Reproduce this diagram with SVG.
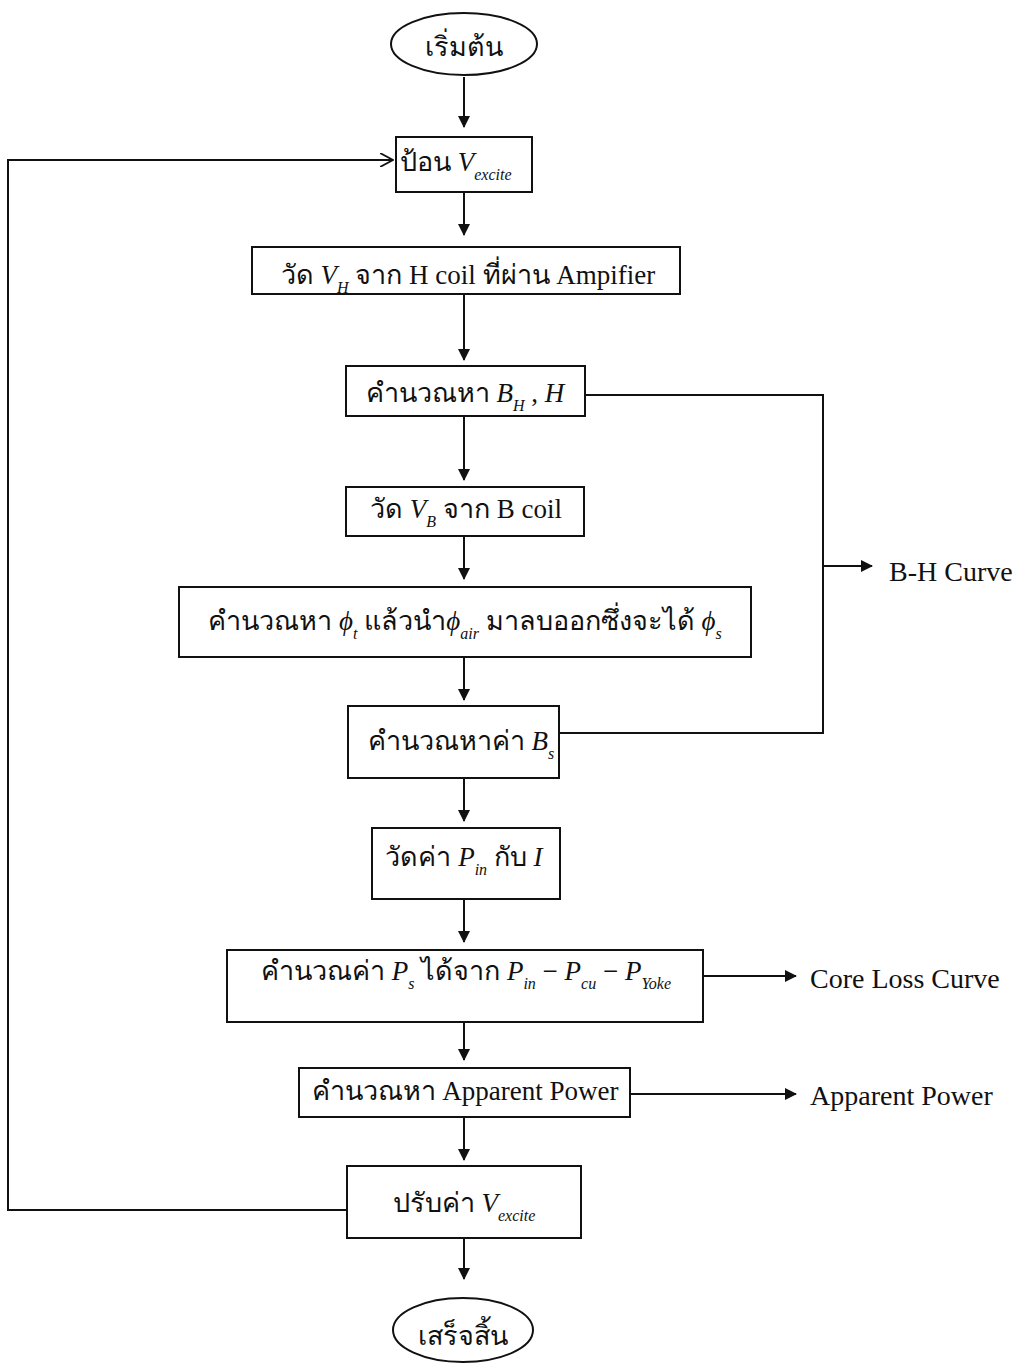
<svg xmlns="http://www.w3.org/2000/svg" width="1022" height="1365" viewBox="0 0 1022 1365">
<defs>
<marker id="ah" viewBox="0 0 12 12" refX="11" refY="6" markerWidth="12" markerHeight="12" markerUnits="userSpaceOnUse" orient="auto">
<path d="M0,0 L12,6 L0,12 Z" fill="#111"/>
</marker>
<marker id="open" viewBox="0 0 14 14" refX="13" refY="7" markerWidth="14" markerHeight="14" markerUnits="userSpaceOnUse" orient="auto">
<path d="M0,0 L13,7 L0,14" fill="none" stroke="#111" stroke-width="1.8"/>
</marker>
<style>
.box{fill:#fff;stroke:#111;stroke-width:2}
.ln{fill:none;stroke:#111;stroke-width:2}
.ar{fill:none;stroke:#111;stroke-width:2;marker-end:url(#ah)}
text{font-family:"Liberation Serif","DejaVu Serif",serif;font-size:27px;fill:#111}
.c{text-anchor:middle}
.i{font-style:italic}
.sub{font-size:16px;font-style:italic}
.lbl{font-size:28px}
</style>
</defs>
<rect width="1022" height="1365" fill="#fff"/>

<g id="connectors">
<line class="ar" x1="464" y1="77" x2="464" y2="127"/>
<line class="ar" x1="464" y1="193" x2="464" y2="235"/>
<line class="ar" x1="464" y1="295" x2="464" y2="360"/>
<line class="ar" x1="464" y1="417" x2="464" y2="480"/>
<line class="ar" x1="464" y1="537" x2="464" y2="579"/>
<line class="ar" x1="464" y1="658" x2="464" y2="700"/>
<line class="ar" x1="464" y1="779" x2="464" y2="821"/>
<line class="ar" x1="464" y1="900" x2="464" y2="942"/>
<line class="ar" x1="464" y1="1023" x2="464" y2="1060"/>
<line class="ar" x1="464" y1="1118" x2="464" y2="1160"/>
<line class="ar" x1="464" y1="1239" x2="464" y2="1279"/>
<polyline class="ln" points="585,395 823,395 823,733 560,733"/>
<line class="ar" x1="823" y1="566" x2="872" y2="566"/>
<line class="ar" x1="703" y1="976" x2="796" y2="976"/>
<line class="ar" x1="630" y1="1094" x2="796" y2="1094"/>
<polyline class="ln" points="347,1210 8,1210 8,160 393,160" marker-end="url(#open)"/>
</g>

<g id="start">
<ellipse class="box" cx="464" cy="44" rx="73" ry="31"/>
<text class="c" x="464" y="56" font-size="31">เริ่มต้น</text>
</g>

<g id="input-v">
<rect class="box" x="396" y="137" width="136" height="55"/>
<text x="400" y="171">ป้อน <tspan class="i">V</tspan><tspan class="sub" dy="9">excite</tspan></text>
</g>

<g id="measure-vh">
<rect class="box" x="252" y="247" width="428" height="47"/>
<text class="c" x="468" y="284">วัด <tspan class="i">V</tspan><tspan class="sub" dy="9">H</tspan><tspan dy="-9"> จาก H coil ที่ผ่าน Ampifier</tspan></text>
</g>

<g id="calc-bh">
<rect class="box" x="346" y="366" width="239" height="50"/>
<text class="c" x="465" y="402">คำนวณหา <tspan class="i">B</tspan><tspan class="sub" dy="9">H</tspan><tspan dy="-9">  , </tspan><tspan class="i">H</tspan></text>
</g>

<g id="measure-vb">
<rect class="box" x="346" y="487" width="238" height="49"/>
<text class="c" x="466" y="518">วัด <tspan class="i">V</tspan><tspan class="sub" dy="9">B</tspan><tspan dy="-9">  จาก B coil</tspan></text>
</g>

<g id="calc-phi">
<rect class="box" x="179" y="587" width="572" height="70"/>
<text class="c" x="465" y="630" font-size="29">คำนวณหา <tspan class="i">ϕ</tspan><tspan class="sub" dy="9">t</tspan><tspan dy="-9"> แล้วนำ</tspan><tspan class="i">ϕ</tspan><tspan class="sub" dy="9">air</tspan><tspan dy="-9"> มาลบออกซึ่งจะได้ </tspan><tspan class="i">ϕ</tspan><tspan class="sub" dy="9">s</tspan></text>
</g>

<g id="calc-bs">
<rect class="box" x="348" y="706" width="211" height="72"/>
<text class="c" x="461" y="750">คำนวณหาค่า <tspan class="i">B</tspan><tspan class="sub" dy="9">s</tspan></text>
</g>

<g id="measure-pin">
<rect class="box" x="372" y="828" width="188" height="71"/>
<text class="c" x="464" y="866">วัดค่า <tspan class="i">P</tspan><tspan class="sub" dy="9">in</tspan><tspan dy="-9"> กับ </tspan><tspan class="i">I</tspan></text>
</g>

<g id="calc-ps">
<rect class="box" x="227" y="950" width="476" height="72"/>
<text class="c" x="466" y="980">คำนวณค่า <tspan class="i">P</tspan><tspan class="sub" dy="9">s</tspan><tspan dy="-9"> ได้จาก </tspan><tspan class="i">P</tspan><tspan class="sub" dy="9">in</tspan><tspan dy="-9"> − </tspan><tspan class="i">P</tspan><tspan class="sub" dy="9">cu</tspan><tspan dy="-9"> − </tspan><tspan class="i">P</tspan><tspan class="sub" dy="9">Yoke</tspan></text>
</g>

<g id="calc-apparent">
<rect class="box" x="299" y="1068" width="331" height="49"/>
<text class="c" x="465" y="1100">คำนวณหา Apparent Power</text>
</g>

<g id="adjust-v">
<rect class="box" x="347" y="1166" width="234" height="72"/>
<text class="c" x="464" y="1212">ปรับค่า <tspan class="i">V</tspan><tspan class="sub" dy="9">excite</tspan></text>
</g>

<g id="end">
<ellipse class="box" cx="463" cy="1330" rx="70" ry="32"/>
<text class="c" x="463" y="1345" font-size="31">เสร็จสิ้น</text>
</g>

<g id="outputs">
<text class="lbl" x="889" y="581">B-H Curve</text>
<text class="lbl" x="810" y="988">Core Loss Curve</text>
<text class="lbl" x="810" y="1105">Apparent Power</text>
</g>
</svg>
